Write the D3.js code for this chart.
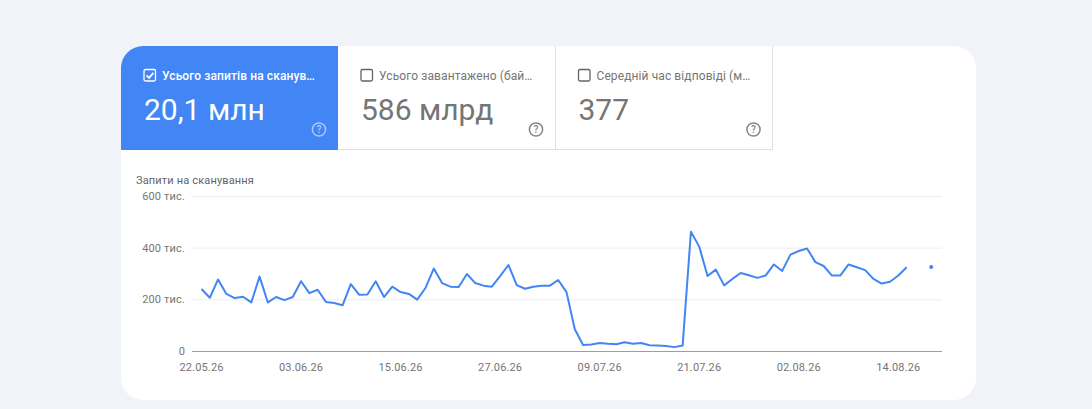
<!DOCTYPE html>
<html><head><meta charset="utf-8">
<script src="https://cdn.jsdelivr.net/npm/d3@7/dist/d3.min.js"></script>
<style>html,body{margin:0;padding:0;background:#f0f4f9;overflow:hidden}svg{display:block;font-family:Roboto,sans-serif}</style>
</head><body><svg id="c" width="1092" height="409"></svg>
<script>
const tabLabels=["Усього запитів на сканув…","Усього завантажено (бай…","Середній час відповіді (м…"];
const tabValues=["20,1 млн","586 млрд","377"];
const axisTitle="Запити на сканування";
const yTicks=[0,200000,400000,600000];
const yTickLabels=["0","200 тис.","400 тис.","600 тис."];
const xTickIdx=[0,12,24,36,48,60,72,84];
const xTickLabels=["22.05.26","03.06.26","15.06.26","27.06.26","09.07.26","21.07.26","02.08.26","14.08.26"];
const crawl=[240,206,277,221,205,210,188,288,188,209,197,209,270,224,237,190,186,177,259,218,219,270,209,249,228,221,199,244,319,263,249,248,298,263,253,249,290,333,255,241,249,253,253,275,228,84,23,25,31,28,26,34,28,31,22,21,19,15,21,462,404,290,315,254,279,302,293,283,292,335,310,373,387,397,344,329,292,292,335,324,313,279,261,268,292,324,null,null,325];

const svg=d3.select("#c");
const card={x:121,y:46,w:855,h:354,r:22};
svg.append("rect").attr("x",card.x).attr("y",card.y).attr("width",card.w).attr("height",card.h).attr("rx",card.r).attr("fill","#fff");

// tabs
const tabX=[121,338,555.5];
const g=svg.append("g");
g.append("path").attr("d",`M121 150V68a22 22 0 0 1 22-22H338V150Z`).attr("fill","#4285f4");
g.append("path").attr("d","M338.5 149.5H772.5V46M555.5 46V149.5").attr("fill","none").attr("stroke","#e0e0e0").attr("stroke-width",1);
tabLabels.forEach((t,i)=>{
  const active=i===0, x=tabX[i];
  const col=active?"#fff":"#757575";
  const tg=g.append("g").attr("transform",`translate(${x},46)`);
  tg.append("rect").attr("x",23).attr("y",23.5).attr("width",11.5).attr("height",11.5).attr("rx",1.5)
    .attr("fill","none").attr("stroke",active?"#fff":"#5f6368").attr("stroke-width",1.3);
  if(active) tg.append("path").attr("d","M25.6 29.4l2.5 2.5 4.3-5").attr("fill","none").attr("stroke","#fff").attr("stroke-width",1.7);
  tg.append("text").attr("x",41).attr("y",33.5).attr("font-size",12).attr("letter-spacing",0.1).attr("font-weight",active?500:400).attr("fill",col).text(t);
  tg.append("text").attr("x",23).attr("y",74).attr("font-size",30).attr("fill",col).attr("font-weight",400).text(tabValues[i]);
  const h=tg.append("g").attr("transform","translate(198,83.5)").attr("opacity",active?0.55:1);
  h.append("circle").attr("r",6.6).attr("fill","none").attr("stroke",active?"#fff":"#80868b").attr("stroke-width",1.5);
  h.append("text").attr("y",3.6).attr("text-anchor","middle").attr("font-size",10).attr("font-weight",500).attr("fill",active?"#fff":"#80868b").text("?");
});

// chart
const x=d3.scaleLinear().domain([0,88]).range([201.5,931.5]);
const y=d3.scaleLinear().domain([0,600000]).range([351,196]);
svg.append("text").attr("x",136).attr("y",184).attr("font-size",11).attr("letter-spacing",0.16).attr("fill","#5f6368").text(axisTitle);

const ya=svg.append("g").attr("transform","translate(192,0)")
  .call(d3.axisLeft(y).tickValues(yTicks).tickSize(0).tickPadding(7).tickFormat((d,i)=>yTickLabels[i]));
ya.select(".domain").remove();
ya.selectAll("text").attr("font-family","Roboto,sans-serif").attr("font-size",11).attr("letter-spacing",0.16).attr("fill","#757575");
ya.selectAll(".tick").append("line").attr("x1",0).attr("x2",750).attr("stroke",d=>d===0?"#9e9e9e":"#eeeeee").attr("stroke-width",1);

const xa=svg.append("g").attr("transform","translate(-0.5,351)")
  .call(d3.axisBottom(x).tickValues(xTickIdx).tickSize(0).tickPadding(12).tickFormat((d,i)=>xTickLabels[i]));
xa.select(".domain").remove();
xa.selectAll("text").attr("font-family","Roboto,sans-serif").attr("font-size",11).attr("letter-spacing",0.16).attr("fill","#757575");

const line=d3.line().defined(d=>d!=null).x((d,i)=>x(i)).y(d=>y(d*1000));
svg.append("path").datum(crawl).attr("d",line).attr("fill","none").attr("stroke","#4285f4").attr("stroke-width",2).attr("stroke-linejoin","round");
const isolated=crawl.map((v,i)=>({v,i})).filter(d=>d.v!=null&&crawl[d.i-1]==null&&crawl[d.i+1]==null);
svg.selectAll("circle.p").data(isolated).join("circle").attr("class","p").attr("cx",d=>x(d.i)-0.3).attr("cy",d=>y(d.v*1000)).attr("r",2).attr("fill","#4285f4");
</script></body></html>
